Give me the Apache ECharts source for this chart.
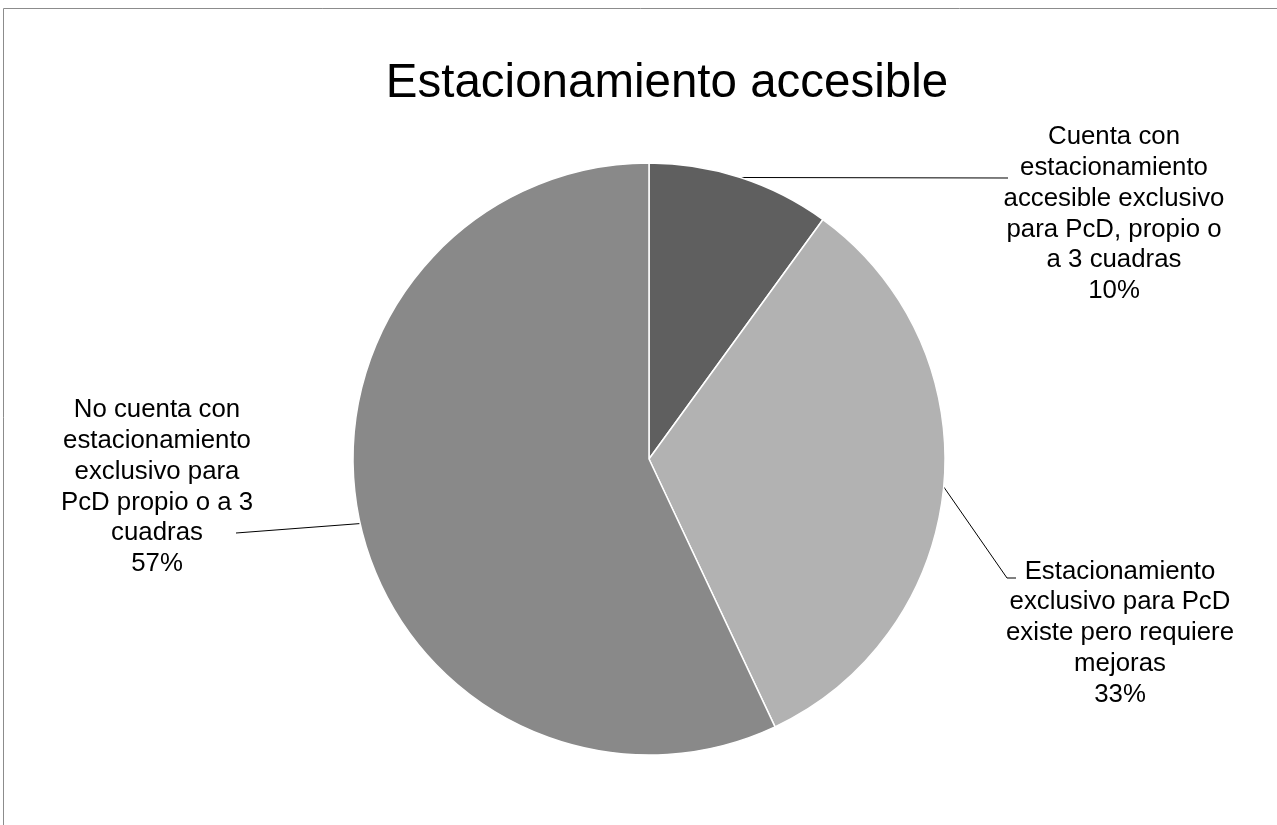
<!DOCTYPE html>
<html>
<head>
<meta charset="utf-8">
<script src="https://cdn.jsdelivr.net/npm/echarts@6/dist/echarts.min.js"></script>
<style>
html,body{margin:0;padding:0;background:#fff;}
#chart{width:1277px;height:825px;}
</style>
</head>
<body>
<div id="chart"></div>
<script>
const titleText = 'Estacionamiento accesible';
const categories = [
  'Cuenta con\nestacionamiento\naccesible exclusivo\npara PcD, propio o\na 3 cuadras',
  'Estacionamiento\nexclusivo para PcD\nexiste pero requiere\nmejoras',
  'No cuenta con\nestacionamiento\nexclusivo para\nPcD propio o a 3\ncuadras'
];
const values = [10, 33, 57];
const colors = ['#5f5f5f', '#b2b2b2', '#898989'];

// label placement (text block centre) and leader line bends
const labelPlaces = [
  {x: 1114, y: 214, bends: [[1008, 178], [1008, 178]]},
  {x: 1120, y: 633, bends: [[1007, 578], [1016, 578]]},
  {x: 157, y: 487, bends: [[236, 533], [236, 533]]}
];

const chart = echarts.init(document.getElementById('chart'));
chart.setOption({
  animation: false,
  backgroundColor: '#fff',
  title: {
    text: titleText,
    left: 662,
    top: 55,
    textAlign: 'center',
    textStyle: {fontFamily: 'Liberation Sans, Arial, sans-serif', fontSize: 47.5, fontWeight: 'normal', color: '#000'}
  },
  graphic: [{
    type: 'rect',
    shape: {x: 3.5, y: 8.5, width: 1400, height: 1000},
    style: {fill: 'none', stroke: '#8c8c8c', lineWidth: 1},
    silent: true
  }],
  series: [{
    type: 'pie',
    center: [649, 459],
    radius: 296,
    startAngle: 90,
    clockwise: true,
    emphasis: {disabled: true},
    itemStyle: {borderColor: '#fff', borderWidth: 1.5},
    data: categories.map((c, i) => ({name: c, value: values[i], itemStyle: {color: colors[i]}})),
    label: {
      show: true,
      position: 'outside',
      formatter: '{b}\n{d}%',
      fontFamily: 'Liberation Sans, Arial, sans-serif',
      fontSize: 25.8,
      lineHeight: 30.8,
      color: '#000',
      align: 'center'
    },
    labelLine: {show: true, length: 20, length2: 20, lineStyle: {color: '#000', width: 1}},
    labelLayout: function (params) {
      const p = labelPlaces[params.dataIndex];
      const start = params.labelLinePoints ? params.labelLinePoints[0] : p.bends[0];
      return {
        x: p.x,
        y: p.y,
        align: 'center',
        verticalAlign: 'middle',
        labelLinePoints: [start, p.bends[0], p.bends[1]]
      };
    }
  }]
});
</script>
</body>
</html>
